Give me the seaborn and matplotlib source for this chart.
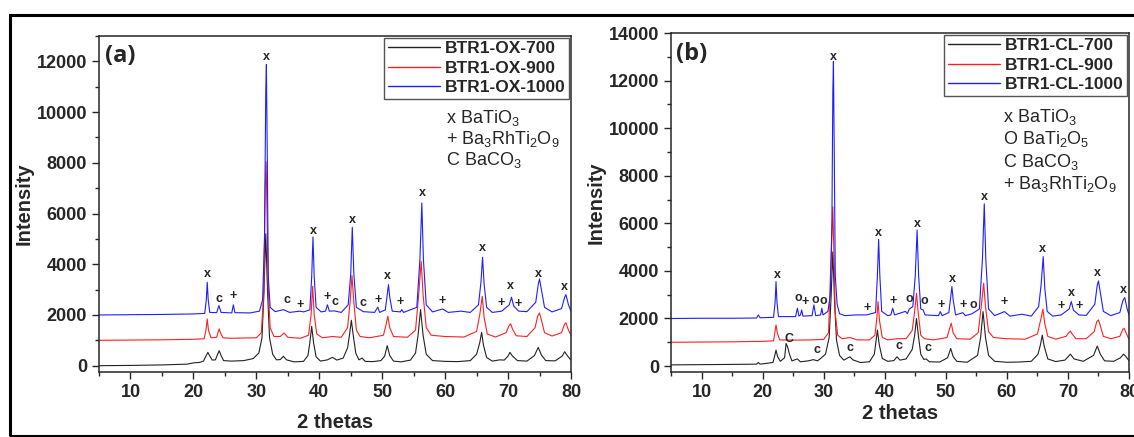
import numpy as np
import pandas as pd
import seaborn as sns
import matplotlib.pyplot as plt
from matplotlib.lines import Line2D
from matplotlib.patches import Rectangle
from matplotlib.ticker import MultipleLocator

# ---- data: (2theta, intensity) ----
ox700 = [(5, 0), (10, 10), (15, 30), (19, 60), (20, 110), (21, 130),
         (21.6, 180), (22.0, 380), (22.3, 526), (22.6, 380), (23.0, 220),
         (23.5, 230), (23.8, 420), (24.1, 590), (24.4, 400), (24.8, 200),
         (26, 180), (28, 200), (29.5, 280), (30.4, 500),
         (30.9, 1100), (31.2, 2800), (31.5, 5200), (31.8, 2800), (32.1, 1100), (32.6, 450), (33.2, 230),
         (33.8, 240), (34.3, 370), (34.8, 230), (36, 150), (37.5, 170), (38.2, 400),
         (38.5, 900), (38.8, 1550), (39.1, 900), (39.5, 350), (40.2, 180), (41.3, 230),
         (42.1, 330), (42.8, 220), (43.8, 300), (44.5, 700),
         (44.8, 1200), (45.1, 1790), (45.4, 1200), (45.8, 500), (46.3, 230),
         (46.8, 300), (47.3, 170), (48.5, 160), (49.8, 200), (50.4, 380),
         (50.8, 790), (51.2, 400), (51.8, 180), (53, 150), (54.5, 220), (55.3, 500),
         (55.7, 1200), (56.1, 2210), (56.5, 1200), (57.0, 450), (58, 200), (60, 170), (62, 160), (64, 200), (65.0, 450),
         (65.5, 900), (65.8, 1315), (66.1, 800), (66.6, 320), (67.5, 180),
         (68.7, 230), (69.4, 220), (70.0, 380), (70.3, 525), (70.7, 380), (71.5, 200), (73, 180), (74.2, 400),
         (74.8, 720), (75.3, 420), (76, 200), (77.5, 190), (78.6, 380), (79, 550), (79.4, 400), (80, 220)]

ox900 = [(5, 1000), (10, 1010), (15, 1020), (20, 1040), (21.7, 1060), (22.0, 1400), (22.2, 1840), (22.4, 1400),
         (22.8, 1100), (23.7, 1120), (23.9, 1300), (24.1, 1450), (24.3, 1300), (24.7, 1100), (26, 1080), (28, 1090),
         (30, 1100), (30.8, 1300), (31.2, 3000), (31.4, 7000), (31.55, 8035), (31.7, 6000), (31.9, 3000), (32.2, 1500),
         (32.8, 1150), (33.8, 1150), (34.4, 1290), (35.0, 1120), (37, 1080), (38.3, 1200), (38.7, 2000), (38.95, 3130),
         (39.2, 2000), (39.6, 1250), (40.5, 1100), (42.1, 1150), (43.5, 1120), (44.5, 1500), (44.9, 2500), (45.2, 3550),
         (45.5, 2500), (45.9, 1400), (46.5, 1150), (48, 1100), (50.2, 1200), (50.6, 1600), (50.9, 1950), (51.2, 1500),
         (51.8, 1150), (54, 1120), (55.3, 1400), (55.8, 2800), (56.2, 4116), (56.5, 2800), (57, 1500), (57.8, 1200),
         (60, 1150), (63, 1130), (65.0, 1350), (65.5, 2000), (65.9, 2735), (66.2, 1900), (66.7, 1250), (68, 1130),
         (69.7, 1300), (70.1, 1550), (70.4, 1657), (70.7, 1450), (71.3, 1180), (73, 1150), (74.3, 1500), (74.7, 1950),
         (75.0, 2080), (75.3, 1800), (75.8, 1300), (77, 1170), (78.5, 1300), (79.0, 1650), (79.2, 1690), (79.6, 1400),
         (80, 1200)]

ox1000 = [(5, 2000), (10, 2010), (15, 2020), (20, 2040), (21.8, 2060), (22.05, 2600), (22.2, 3290), (22.35, 2600),
          (22.6, 2100), (23.7, 2090), (24.05, 2370), (24.4, 2100), (26.1, 2080), (26.35, 2400), (26.6, 2090), (29, 2080),
          (30.5, 2150), (31.0, 2600), (31.3, 5000), (31.5, 10800), (31.6, 11875), (31.75, 8000), (31.9, 3500),
          (32.2, 2300), (33, 2130), (34.3, 2210), (35.3, 2100), (36.9, 2150), (37.5, 2120), (38.5, 2200), (38.8, 3500),
          (39.0, 5076), (39.2, 3500), (39.5, 2300), (40.3, 2120), (41.0, 2150), (41.3, 2400), (41.6, 2150), (42.4, 2160),
          (43.5, 2100), (44.6, 2400), (45.0, 3600), (45.25, 5457), (45.5, 3600), (45.9, 2300), (47.0, 2130), (48.8, 2100),
          (49.3, 2310), (49.6, 2100), (50.5, 2200), (50.8, 2800), (51.0, 3195), (51.2, 2700), (51.6, 2150), (52.9, 2120),
          (53.1, 2210), (53.4, 2100), (55.5, 2300), (56.0, 4200), (56.3, 6417), (56.55, 4200), (57.0, 2400), (58, 2120),
          (59.6, 2235), (60.5, 2100), (62.5, 2150), (64, 2100), (65.3, 2400), (65.7, 3300), (65.95, 4274), (66.2, 3200),
          (66.6, 2300), (67.5, 2100), (69.0, 2150), (70.2, 2400), (70.55, 2700), (70.9, 2350), (71.7, 2150), (73, 2130),
          (74.4, 2500), (74.8, 3200), (75.0, 3420), (75.3, 3000), (75.8, 2300), (77, 2120), (78.5, 2250), (79.0, 2700),
          (79.2, 2800), (79.6, 2400), (80, 2150)]

cl700 = [(5, 50), (10, 60), (15, 70), (19, 80), (19.3, 150), (19.6, 80), (21.7, 150), (22.0, 450), (22.2, 670),
         (22.45, 400), (22.9, 200), (23.6, 350), (23.85, 950), (24.1, 800), (24.4, 500), (24.8, 220), (25.7, 300),
         (26.2, 180), (27.5, 220), (28.3, 270), (29.0, 220), (29.5, 320), (30.3, 500), (30.9, 1200), (31.2, 2800),
         (31.5, 4800), (31.8, 2600), (32.1, 1100), (32.6, 450), (33.3, 250), (34.0, 350), (34.3, 390), (34.8, 260),
         (36, 150), (37.5, 180), (38.3, 500), (38.8, 1515), (39.1, 900), (39.6, 320), (40.5, 200), (41.5, 230),
         (42.0, 390), (42.5, 250), (43.5, 300), (44.5, 700), (44.9, 1300), (45.2, 2000), (45.5, 1300), (45.9, 500),
         (46.4, 280), (46.8, 300), (47.3, 180), (49, 170), (50.3, 350), (50.8, 740), (51.2, 400), (51.8, 200),
         (53.5, 160), (55.2, 450), (55.7, 1200), (56.1, 2290), (56.5, 1200), (57.0, 450), (58, 200), (60, 160),
         (62, 170), (64, 200), (65.1, 500), (65.5, 900), (65.8, 1300), (66.1, 850), (66.7, 300), (68, 190), (69.5, 250),
         (70.4, 500), (71, 300), (72.5, 200), (74.2, 450), (74.8, 840), (75.3, 500), (76, 220), (77.5, 200), (78.6, 350),
         (79.1, 500), (79.5, 400), (80, 220)]

cl900 = [(5, 1000), (10, 1010), (15, 1020), (20, 1040), (21.8, 1060), (22.0, 1400), (22.2, 1730), (22.4, 1400),
         (22.8, 1100), (25, 1090), (28, 1100), (30, 1120), (30.8, 1400), (31.1, 3760), (31.35, 5500), (31.5, 6700),
         (31.7, 4500), (31.9, 2200), (32.3, 1300), (33, 1150), (34.3, 1200), (35.5, 1100), (37.5, 1100), (38.4, 1300),
         (38.7, 2000), (38.9, 2710), (39.15, 1900), (39.6, 1200), (40.5, 1100), (42, 1150), (43.5, 1150), (44.5, 1500),
         (44.9, 2300), (45.2, 3060), (45.5, 2200), (45.9, 1300), (46.5, 1150), (48, 1100), (50.2, 1200), (50.6, 1550),
         (50.9, 1800), (51.2, 1400), (51.8, 1150), (54, 1130), (55.3, 1400), (55.8, 2500), (56.2, 3480), (56.5, 2500),
         (57, 1450), (57.8, 1200), (60, 1150), (63, 1130), (65, 1350), (65.5, 1900), (65.9, 2390), (66.2, 1800),
         (66.7, 1250), (68, 1130), (69.7, 1250), (70.1, 1400), (70.4, 1470), (70.7, 1350), (71.3, 1150), (73, 1150),
         (74.3, 1450), (74.7, 1850), (75.0, 1940), (75.3, 1700), (75.8, 1250), (77, 1150), (78.5, 1250), (79.0, 1550),
         (79.2, 1590), (79.6, 1350), (80, 1120)]

cl1000 = [(5, 2000), (10, 2010), (15, 2010), (19, 2020), (19.3, 2150), (19.6, 2030), (21.8, 2050), (22.05, 2700),
          (22.2, 3550), (22.35, 2700), (22.6, 2080), (25.4, 2080), (25.7, 2430), (25.95, 2100), (26.2, 2150),
          (26.4, 2360), (26.6, 2100), (28.1, 2120), (28.4, 2570), (28.7, 2120), (29.5, 2150), (29.7, 2430),
          (29.9, 2150), (30.7, 2300), (31.1, 3000), (31.35, 6000), (31.5, 11500), (31.6, 12810), (31.75, 8500),
          (31.9, 3800), (32.2, 2600), (32.6, 2200), (33.5, 2120), (35.3, 2150), (37.0, 2150), (38.5, 2250),
          (38.8, 3800), (39.0, 5330), (39.2, 3800), (39.5, 2300), (40.5, 2120), (41.0, 2150), (41.3, 2430),
          (41.6, 2150), (43.4, 2300), (43.7, 2200), (44.0, 2390), (44.6, 2500), (45.0, 3800), (45.3, 5720),
          (45.55, 3800), (45.9, 2400), (46.3, 2360), (46.6, 2150), (48.8, 2120), (49.1, 2290), (49.4, 2120),
          (50.5, 2250), (50.8, 2900), (51.0, 3340), (51.2, 2800), (51.6, 2150), (52.8, 2245), (53.2, 2120),
          (54.3, 2200), (55.5, 2400), (56.0, 4500), (56.3, 6820), (56.55, 4500), (57.0, 2400), (58, 2120),
          (59.6, 2290), (60.5, 2100), (62.5, 2180), (64, 2100), (65.2, 2500), (65.6, 3400), (65.95, 4600),
          (66.2, 3300), (66.6, 2300), (67.5, 2100), (68.9, 2150), (70.2, 2400), (70.55, 2710), (70.9, 2350),
          (71.8, 2150), (73, 2130), (74.4, 2600), (74.8, 3400), (75.0, 3580), (75.3, 3100), (75.8, 2300), (77, 2120),
          (78.5, 2250), (79.0, 2750), (79.3, 2880), (79.7, 2400), (80, 2150)]

# phase markers: (symbol, 2theta, intensity)
marks_a = ([("x", t, i) for t, i in [(22.3, 3630), (31.6, 12160), (39.0, 5300), (45.3, 5730), (50.8, 3520),
                                     (56.4, 6790), (65.9, 4640), (70.4, 3160), (74.8, 3630), (79.0, 3120)]]
           + [("c", t, i) for t, i in [(24.1, 2640), (34.8, 2600), (42.5, 2500), (46.9, 2470)]]
           + [("+", t, i) for t, i in [(26.3, 2760), (36.9, 2400), (41.2, 2710), (49.3, 2600), (52.9, 2500),
                                       (59.5, 2540), (68.9, 2470), (71.6, 2430)]])
marks_b = ([("x", t, i) for t, i in [(22.4, 3815), (31.6, 13000), (39.0, 5580), (45.3, 5960), (51.1, 3650),
                                     (56.3, 7100), (65.9, 4910), (70.5, 3060), (74.8, 3930), (79.1, 3200)]]
           + [("o", t, i) for t, i in [(25.9, 2850), (28.6, 2780), (29.9, 2720), (44.1, 2810), (46.5, 2720),
                                       (54.5, 2570)]]
           + [("+", t, i) for t, i in [(26.9, 2680), (37.1, 2430), (41.4, 2720), (49.2, 2570), (52.8, 2570),
                                       (59.6, 2680), (68.9, 2530), (71.9, 2530)]]
           + [("C", 24.3, 1130)]
           + [("c", t, i) for t, i in [(28.9, 680), (34.3, 740), (42.4, 825), (47.1, 740)]])

phases_a = ["x BaTiO$_3$", "+ Ba$_3$RhTi$_2$O$_9$", "C BaCO$_3$"]
phases_b = ["x BaTiO$_3$", "O BaTi$_2$O$_5$", "C BaCO$_3$", "+ Ba$_3$RhTi$_2$O$_9$"]

colors = ["#222222", "#ff2020", "#1f1fff"]

sns.set_style("ticks")
plt.rcParams["font.family"] = ["Liberation Sans", "DejaVu Sans"]
plt.rcParams["mathtext.fontset"] = "custom"
plt.rcParams["mathtext.rm"] = "Liberation Sans"
plt.rcParams["mathtext.it"] = "Liberation Sans"
plt.rcParams["mathtext.bf"] = "Liberation Sans:bold"

fig = plt.figure(figsize=(11.34, 4.37), dpi=100)
ax_a = fig.add_axes([0.0873, 0.1487, 0.4162, 0.769])
ax_b = fig.add_axes([0.5917, 0.1487, 0.4039, 0.7757])


def draw_panel(ax, traces, names, marks, phases, tag, ymax, xpad, ypad, phase_x, phase_y, phase_step):
    for tr, col in zip(traces, colors):
        df = pd.DataFrame(tr, columns=["theta", "I"])
        sns.lineplot(data=df, x="theta", y="I", ax=ax, color=col, lw=0.8,
                     sort=False, estimator=None)
    for sym, t, i in marks:
        ax.text(t, i, sym, ha="center", va="center", fontsize=9, fontweight="bold")
    ax.set_xlim(5, 80)
    ax.set_ylim(-250, ymax)
    ax.xaxis.set_major_locator(MultipleLocator(10))
    ax.xaxis.set_minor_locator(MultipleLocator(5))
    ax.yaxis.set_major_locator(MultipleLocator(2000))
    ax.yaxis.set_minor_locator(MultipleLocator(1000))
    ax.tick_params(which="major", length=5, width=1, labelsize=13)
    ax.tick_params(which="minor", length=3, width=1)
    for lab in ax.get_xticklabels() + ax.get_yticklabels():
        lab.set_fontweight("bold")
    for s in ax.spines.values():
        s.set_linewidth(1.1)
    ax.set_xlabel("2 thetas", fontsize=14.5, fontweight="bold", labelpad=xpad)
    ax.set_ylabel("Intensity", fontsize=14.5, fontweight="bold", labelpad=ypad)
    ax.text(0.012, 0.975, tag, transform=ax.transAxes, ha="left", va="top",
            fontsize=17, fontweight="bold", family=["Open Sans", "DejaVu Sans"])
    handles = [Line2D([], [], color=c, lw=1.0) for c in colors]
    leg = ax.legend(handles, names, loc="upper right", bbox_to_anchor=(1.0, 1.0), borderaxespad=0.1,
                    frameon=True, fancybox=False, edgecolor="#555555", framealpha=1,
                    handlelength=3.0, handletextpad=0.3, labelspacing=0.25,
                    prop={"weight": "bold", "size": 12.5}, borderpad=0.2)
    leg.get_frame().set_linewidth(1.0)
    for k, p in enumerate(phases):
        ax.text(phase_x, phase_y - k * phase_step, p, transform=ax.transAxes,
                ha="left", va="center", fontsize=13)


draw_panel(ax_a, [ox700, ox900, ox1000], ["BTR1-OX-700", "BTR1-OX-900", "BTR1-OX-1000"],
           marks_a, phases_a, "(a)", 13000, 9, 2, 0.735, 0.755, 0.062)
draw_panel(ax_b, [cl700, cl900, cl1000], ["BTR1-CL-700", "BTR1-CL-900", "BTR1-CL-1000"],
           marks_b, phases_b, "(b)", 14000, 2, 2, 0.725, 0.752, 0.066)

# outer frame round the whole figure
fig.patches.append(Rectangle((10 / 1134, 0.003), 1.2, 0.9635, transform=fig.transFigure,
                             fill=False, lw=2.2, edgecolor="black", clip_on=False))

fig.savefig("out.png", dpi=100)
